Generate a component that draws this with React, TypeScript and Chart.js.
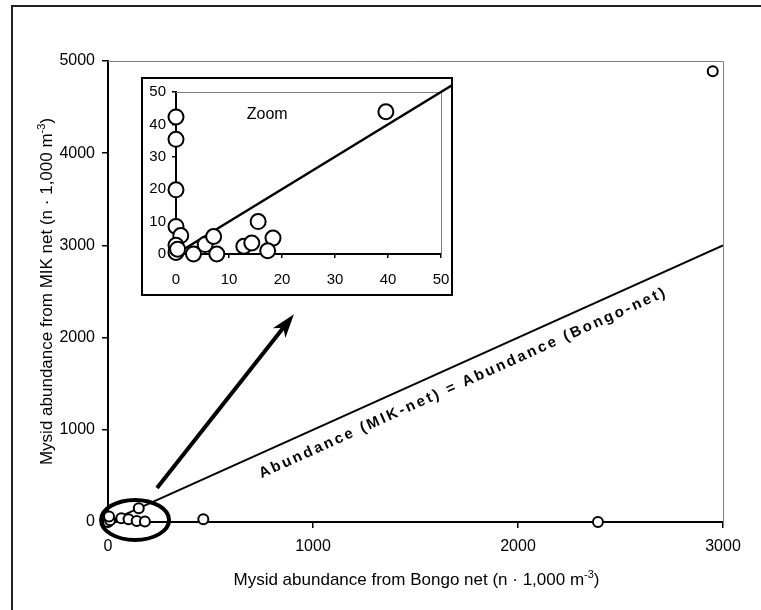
import React, { useEffect, useRef } from 'react';
import { Chart, registerables } from 'chart.js';

Chart.register(...registerables);

const FONT = "'Liberation Sans', Arial, Helvetica, sans-serif";

// Mysid abundance per station: Bongo net (x) vs MIK net (y), n · 1,000 m-3
const bongoAll = [0, 10, 5, 65, 100, 140, 180, 150, 465, 2390, 2950];
const mikAll = [0, 20, 60, 40, 30, 10, 5, 150, 30, 0, 4890];

// Low-abundance stations in the zoom panel
const bongoZoom = [0, 0, 0, 0, 0.9, 0, 0, 0.3, 3.3, 5.5, 7.1, 7.7, 12.8, 14.3, 15.5, 18.3, 17.3, 39.6];
const mikZoom = [42.3, 35.4, 19.8, 8.5, 5.7, 2.7, 0.5, 1.5, 0, 2.9, 5.4, 0, 2.4, 3.4, 10.0, 4.9, 1.0, 43.9];

// Axis ticks
const mainXTicks = [0, 1000, 2000, 3000];
const mainYTicks = [0, 1000, 2000, 3000, 4000, 5000];
const zoomTicks = [0, 10, 20, 30, 40, 50];

// 1:1 reference lines (MIK = Bongo)
const equalityMain = [0, 3000];
const equalityZoom = [0, 52];

const toPoints = (xs: number[], ys: number[]) => xs.map((x, i) => ({ x, y: ys[i] }));

function drawTitle(
  ctx: CanvasRenderingContext2D,
  pre: string,
  sup: string,
  post: string,
  cx: number,
  cy: number,
  angle: number
) {
  ctx.save();
  ctx.translate(cx, cy);
  ctx.rotate(angle);
  ctx.fillStyle = '#000';
  ctx.textBaseline = 'alphabetic';
  ctx.textAlign = 'left';
  const big = `17px ${FONT}`;
  const small = `11px ${FONT}`;
  ctx.font = big;
  const w1 = ctx.measureText(pre).width;
  const w3 = ctx.measureText(post).width;
  ctx.font = small;
  const w2 = ctx.measureText(sup).width;
  let x = -(w1 + w2 + w3) / 2;
  ctx.font = big;
  ctx.fillText(pre, x, 0);
  x += w1;
  ctx.font = small;
  ctx.fillText(sup, x, -7);
  x += w2;
  ctx.font = big;
  ctx.fillText(post, x, 0);
  ctx.restore();
}

function plotFrame(chart: any) {
  const { ctx, chartArea } = chart;
  ctx.save();
  ctx.strokeStyle = '#808080';
  ctx.lineWidth = 1;
  ctx.beginPath();
  ctx.moveTo(chartArea.left, chartArea.top + 0.5);
  ctx.lineTo(chartArea.right + 0.5, chartArea.top + 0.5);
  ctx.lineTo(chartArea.right + 0.5, chartArea.bottom);
  ctx.stroke();
  ctx.restore();
}

const mainDecor = {
  id: 'mainDecor',
  beforeDraw(chart: any) {
    const { ctx, width, height } = chart;
    ctx.save();
    ctx.fillStyle = '#fff';
    ctx.fillRect(0, 0, width, height);
    // outer figure frame
    ctx.strokeStyle = '#222';
    ctx.lineWidth = 2;
    ctx.beginPath();
    ctx.moveTo(12, height + 2);
    ctx.lineTo(12, 6);
    ctx.lineTo(width + 2, 6);
    ctx.stroke();
    ctx.restore();
  },
  beforeDatasetsDraw(chart: any) {
    plotFrame(chart);
  },
  afterDraw(chart: any) {
    const { ctx } = chart;
    const xs = chart.scales.x;
    const ys = chart.scales.y;

    // circle around the low-abundance cluster
    ctx.save();
    ctx.strokeStyle = '#000';
    ctx.lineWidth = 4;
    ctx.beginPath();
    ctx.ellipse(xs.getPixelForValue(132), ys.getPixelForValue(22), 34, 20, 0, 0, Math.PI * 2);
    ctx.stroke();

    // arrow pointing to the zoom panel
    const sx = xs.getPixelForValue(239);
    const sy = ys.getPixelForValue(368);
    const ex = xs.getPixelForValue(907);
    const ey = ys.getPixelForValue(2253);
    const len = Math.hypot(ex - sx, ey - sy);
    const dx = (ex - sx) / len;
    const dy = (ey - sy) / len;
    const px = -dy;
    const py = dx;
    const headL = 24;
    const headW = 8;
    ctx.lineWidth = 4;
    ctx.beginPath();
    ctx.moveTo(sx, sy);
    ctx.lineTo(ex - dx * 14, ey - dy * 14);
    ctx.stroke();
    ctx.fillStyle = '#000';
    ctx.beginPath();
    ctx.moveTo(ex, ey);
    ctx.lineTo(ex - dx * headL + px * headW, ey - dy * headL + py * headW);
    ctx.lineTo(ex - dx * (headL - 7), ey - dy * (headL - 7));
    ctx.lineTo(ex - dx * headL - px * headW, ey - dy * headL - py * headW);
    ctx.closePath();
    ctx.fill();

    // label along the 1:1 line
    const x0 = xs.getPixelForValue(equalityMain[0]);
    const y0 = ys.getPixelForValue(equalityMain[0]);
    const x1 = xs.getPixelForValue(equalityMain[1]);
    const y1 = ys.getPixelForValue(equalityMain[1]);
    const ang = Math.atan2(y1 - y0, x1 - x0);
    const fx = xs.getPixelForValue(1695);
    const fy = ys.getPixelForValue(1695);
    const off = 23;
    const lx = fx - Math.sin(ang) * off;
    const ly = fy + Math.cos(ang) * off;
    ctx.translate(lx, ly);
    ctx.rotate(ang);
    ctx.font = `bold 15px ${FONT}`;
    (ctx as any).letterSpacing = '2.5px';
    ctx.textAlign = 'center';
    ctx.textBaseline = 'alphabetic';
    ctx.fillText('Abundance (MIK-net) = Abundance (Bongo-net)', 0, 0);
    (ctx as any).letterSpacing = '0px';
    ctx.restore();

    // axis titles
    drawTitle(ctx, 'Mysid abundance from Bongo net (n · 1,000 m', '-3', ')', (xs.left + xs.right) / 2 + 1, 585, 0);
    drawTitle(ctx, 'Mysid abundance from MIK net (n · 1,000 m', '-3', ')', 52, (ys.top + ys.bottom) / 2, -Math.PI / 2);
  },
};

const zoomDecor = {
  id: 'zoomDecor',
  beforeDraw(chart: any) {
    const { ctx, width, height } = chart;
    ctx.save();
    ctx.fillStyle = '#fff';
    ctx.fillRect(0, 0, width, height);
    ctx.restore();
  },
  beforeDatasetsDraw(chart: any) {
    plotFrame(chart);
  },
  afterDraw(chart: any) {
    const { ctx, width, height } = chart;
    const xs = chart.scales.x;
    const ys = chart.scales.y;
    ctx.save();
    ctx.fillStyle = '#000';
    ctx.font = `16px ${FONT}`;
    ctx.textAlign = 'center';
    ctx.textBaseline = 'middle';
    ctx.fillText('Zoom', xs.getPixelForValue(17.2), ys.getPixelForValue(42.9));
    ctx.strokeStyle = '#000';
    ctx.lineWidth = 2;
    ctx.strokeRect(1, 1, width - 2, height - 2);
    ctx.restore();
  },
};

// Scale settings shared by both panels; the fixed size keeps the plot area
// where the layout padding puts it.
function axis(ticks: number[], size: number, tickLength: number, padding: number, horizontal: boolean, extent: number) {
  return {
    type: 'linear' as const,
    min: ticks[0],
    max: ticks[ticks.length - 1],
    afterBuildTicks: (scale: any) => {
      scale.ticks = ticks.map((v) => ({ value: v }));
    },
    afterFit: (scale: any) => {
      if (horizontal) scale.height = extent;
      else scale.width = extent;
      scale.paddingLeft = 0;
      scale.paddingRight = 0;
      scale.paddingTop = 0;
      scale.paddingBottom = 0;
    },
    ticks: {
      font: { family: FONT, size },
      color: '#000',
      padding,
      callback: (v: any) => String(v),
    },
    grid: {
      drawOnChartArea: false,
      drawTicks: true,
      tickLength,
      color: '#000',
      lineWidth: 1.5,
    },
    border: { display: true, color: '#000', width: 2 },
  };
}

export default function App() {
  const mainRef = useRef<HTMLCanvasElement>(null);
  const zoomRef = useRef<HTMLCanvasElement>(null);

  useEffect(() => {
    const main = new Chart(mainRef.current as HTMLCanvasElement, {
      type: 'scatter',
      data: {
        datasets: [
          {
            data: toPoints(bongoAll, mikAll),
            pointRadius: 5,
            pointBorderWidth: 2,
            borderColor: '#000',
            backgroundColor: '#fff',
            clip: false,
            order: 1,
          } as any,
          {
            type: 'line',
            data: toPoints(equalityMain, equalityMain),
            borderColor: '#000',
            borderWidth: 2,
            pointRadius: 0,
            order: 2,
          } as any,
        ],
      },
      options: {
        responsive: false,
        animation: false,
        layout: { padding: { left: 0, top: 61, right: 38, bottom: 0 } },
        plugins: { legend: { display: false }, tooltip: { enabled: false } },
        scales: {
          x: axis(mainXTicks, 16, 6, 9, true, 88),
          y: axis(mainYTicks, 16, 6, 7, false, 108),
        } as any,
      },
      plugins: [mainDecor],
    });

    const zoom = new Chart(zoomRef.current as HTMLCanvasElement, {
      type: 'scatter',
      data: {
        datasets: [
          {
            data: toPoints(bongoZoom, mikZoom),
            pointRadius: 7.5,
            pointBorderWidth: 2,
            borderColor: '#000',
            backgroundColor: '#fff',
            clip: false,
            order: 1,
          } as any,
          {
            type: 'line',
            data: toPoints(equalityZoom, equalityZoom),
            borderColor: '#000',
            borderWidth: 2.5,
            pointRadius: 0,
            clip: false,
            order: 2,
          } as any,
        ],
      },
      options: {
        responsive: false,
        animation: false,
        layout: { padding: { left: 0, top: 15, right: 12, bottom: 0 } },
        plugins: { legend: { display: false }, tooltip: { enabled: false } },
        scales: {
          x: axis(zoomTicks, 15, 4, 13, true, 42),
          y: axis(zoomTicks, 15, 4, 6, false, 35),
        } as any,
      },
      plugins: [zoomDecor],
    });

    return () => {
      main.destroy();
      zoom.destroy();
    };
  }, []);

  return (
    <div style={{ position: 'fixed', left: 0, top: 0, width: 761, height: 610, background: '#fff' }}>
      <canvas
        ref={mainRef}
        width={761}
        height={610}
        style={{ position: 'absolute', left: 0, top: 0, width: 761, height: 610 }}
      />
      <canvas
        ref={zoomRef}
        width={312}
        height={219}
        style={{ position: 'absolute', left: 141, top: 77, width: 312, height: 219 }}
      />
    </div>
  );
}
